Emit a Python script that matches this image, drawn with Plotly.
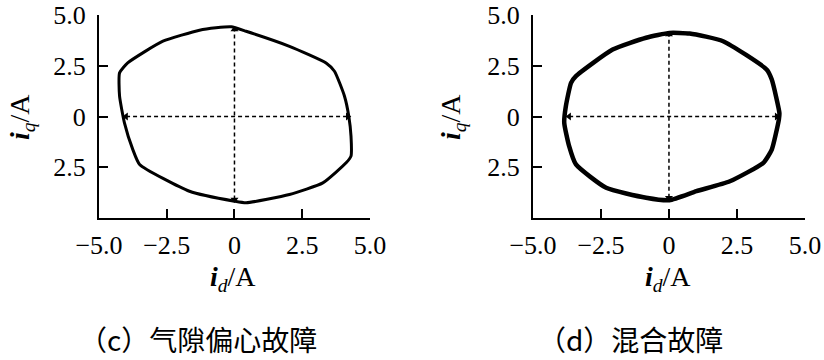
import plotly.graph_objects as go

# ---- data ----
c_id = [4.22, 4.06, 3.69, 3.38, 2.03, 0.43, -0.12, -0.68, -1.29, -2.64, -3.94, -4.24,
        -4.24, -4.06, -3.75, -3.5, -1.66, 0.0, 0.43, 2.03, 3.26, 4.12, 4.3, 4.3, 4.22]
c_iq = [0.0, 1.0, 2.23, 2.64, 3.46, 4.2, 4.42, 4.37, 4.25, 3.71, 2.64, 2.15,
        1.0, -0.31, -1.63, -2.36, -3.68, -4.17, -4.25, -3.84, -3.27, -2.28, -1.95, -0.97, 0.0]
d_id = [4.06, 3.78, 3.59, 1.99, 0.76, 0.02, -0.84, -2.07, -3.42, -3.6, -3.79, -3.85,
        -3.67, -3.42, -2.31, -0.84, 0.02, 1.01, 2.24, 3.47, 3.78, 4.04, 4.06]
d_iq = [0.18, 1.82, 2.32, 3.71, 4.09, 4.12, 3.88, 3.3, 1.99, 1.66, 0.51, -0.31,
        -1.46, -2.36, -3.51, -4.0, -4.12, -3.68, -3.19, -2.28, -1.63, -0.15, 0.18]

# arrow extents: [x_neg, x_pos], [y_neg, y_pos]
c_harrow = [-4.0, 4.18]
c_varrow = [-4.09, 4.29]
d_harrow = [-3.67, 3.96]
d_varrow = [-4.0, 4.04]

x_tickvals = [-5, -2.5, 0, 2.5, 5]
x_ticktext = ["\u22125.0", "\u22122.5", "0", "2.5", "5.0"]
y_tickvals = [5, 2.5, 0, -2.5]
y_ticktext = ["5.0", "2.5", "0", "2.5"]

captions = ["\uff08c\uff09气隙偏心故障", "\uff08d\uff09混合故障"]

SERIF = "Liberation Serif"
CJK = "Noto Sans CJK SC"
TICK_SIZE = 26

fig = go.Figure()

panels = [
    dict(x=c_id, y=c_iq, h=c_harrow, v=c_varrow, lw=3.0, xa="x", ya="y"),
    dict(x=d_id, y=d_iq, h=d_harrow, v=d_varrow, lw=4.5, xa="x2", ya="y2"),
]

for p in panels:
    fig.add_trace(go.Scatter(x=p["x"], y=p["y"], mode="lines",
                             line=dict(color="black", width=p["lw"], shape="spline", smoothing=0.5),
                             xaxis=p["xa"], yaxis=p["ya"], showlegend=False, hoverinfo="skip"))
    fig.add_trace(go.Scatter(x=p["h"], y=[0, 0], mode="lines+markers",
                             line=dict(color="black", width=1.5, dash="4px,3px"),
                             marker=dict(symbol=["triangle-left", "triangle-right"], size=7, color="black"),
                             xaxis=p["xa"], yaxis=p["ya"], showlegend=False, hoverinfo="skip"))
    fig.add_trace(go.Scatter(x=[0, 0], y=p["v"], mode="lines+markers",
                             line=dict(color="black", width=1.5, dash="4px,3px"),
                             marker=dict(symbol=["triangle-down", "triangle-up"], size=7, color="black"),
                             xaxis=p["xa"], yaxis=p["ya"], showlegend=False, hoverinfo="skip"))

def axis(domain, anchor, tv, tt, standoff):
    return dict(domain=domain, anchor=anchor, range=[-5, 5], tickmode="array",
                tickvals=tv, ticktext=tt, ticklabelstandoff=standoff, tickangle=0,
                showline=True, linecolor="black", linewidth=2, ticks="inside", ticklen=9,
                tickwidth=2, tickcolor="black", showgrid=False, zeroline=False, automargin=False,
                tickfont=dict(family=SERIF, size=TICK_SIZE, color="black"), fixedrange=True)

ydom = [0.3944, 0.9583]
fig.update_layout(
    template="none",
    font=dict(family=SERIF, size=TICK_SIZE, color="black"),
    width=824, height=360, margin=dict(l=0, r=0, t=0, b=0, autoexpand=False),
    paper_bgcolor="white", plot_bgcolor="white", showlegend=False,
    xaxis=axis([0.1201, 0.449], "y", x_tickvals, x_ticktext, 3),
    yaxis=axis(ydom, "x", y_tickvals, y_ticktext, 6),
    xaxis2=axis([0.6468, 0.9769], "y2", x_tickvals, x_ticktext, 3),
    yaxis2=axis(ydom, "x2", y_tickvals, y_ticktext, 6),
)

xt = "<b><i>i</i></b><sub><i>d</i></sub>/A"
yt = "<b><i>i</i></b><sub><i>q</i></sub>/A"
title_font = dict(family=SERIF, size=28, color="black")
for cx, yx, capx, cap in [(233, 22, 198, captions[0]), (668, 453, 630, captions[1])]:
    fig.add_annotation(x=cx / 824, y=1 - 278 / 360, xref="paper", yref="paper", text=xt,
                       showarrow=False, font=title_font, xanchor="center", yanchor="middle")
    fig.add_annotation(x=yx / 824, y=1 - 117 / 360, xref="paper", yref="paper", text=yt,
                       showarrow=False, font=title_font, textangle=-90, xanchor="center", yanchor="middle")
    fig.add_annotation(x=capx / 824, y=1 - 339 / 360, xref="paper", yref="paper", text=cap,
                       showarrow=False, font=dict(family=CJK, size=28, color="black"),
                       xanchor="center", yanchor="middle")

fig.write_html("out.html")
